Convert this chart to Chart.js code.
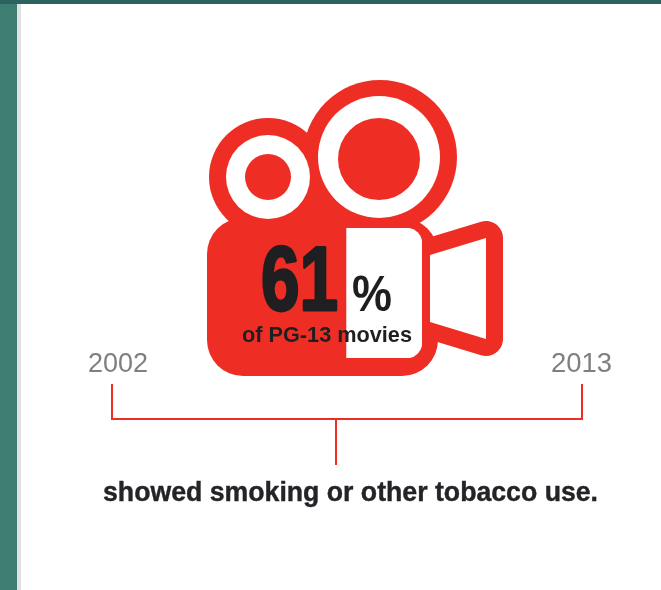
<!DOCTYPE html>
<html>
<head>
<meta charset="utf-8">
<style>
html,body{margin:0;padding:0;background:#fff;overflow:hidden}
#wrap{position:absolute;left:0;top:0;width:661px;height:590px;overflow:hidden;
  background:linear-gradient(#2c6360 0 4px,transparent 4px),linear-gradient(90deg,#3e7d71 0 17px,#fff 17px)}
canvas{display:block;filter:blur(0.6px)}
</style>
<script src="https://cdn.jsdelivr.net/npm/chart.js@4"></script>
</head>
<body>
<div id="wrap"><canvas id="c" width="661" height="590"></canvas></div>
<script>
const categories = ['PG-13 movies'];
const showedTobacco = [61];
const noTobacco = [39];
const years = ['2002', '2013'];
const caption = 'showed smoking or other tobacco use.';
const subLabel = 'of PG-13 movies';

const RED = '#ee2e24', INK = '#1f1f22';

function fitText(ctx, str, left, baseline, width, font, color, heavy) {
  ctx.save();
  ctx.font = font;
  ctx.fillStyle = color;
  ctx.strokeStyle = color;
  ctx.textAlign = 'left';
  ctx.textBaseline = 'alphabetic';
  const m = ctx.measureText(str).width;
  ctx.translate(left, baseline);
  ctx.scale(width / m, 1);
  ctx.fillText(str, 0, 0);
  if (heavy) {
    ctx.lineWidth = heavy;
    ctx.lineJoin = 'round';
    ctx.strokeText(str, 0, 0);
  }
  ctx.restore();
}
function circle(ctx, x, y, r, color) {
  ctx.fillStyle = color;
  ctx.beginPath();
  ctx.arc(x, y, r, 0, Math.PI * 2);
  ctx.fill();
}
function lensPath(ctx) {
  ctx.beginPath();
  ctx.moveTo(430, 255);
  ctx.lineTo(486, 238);
  ctx.lineTo(486, 339);
  ctx.lineTo(430, 322);
  ctx.closePath();
}

const artwork = {
  id: 'artwork',
  beforeDatasetsDraw(chart) {
    const ctx = chart.ctx;
    ctx.save();
    // page frame
    ctx.fillStyle = '#ffffff';
    ctx.fillRect(0, 0, 661, 590);
    ctx.fillStyle = '#e2e2e2';
    ctx.fillRect(17, 4, 4, 586);
    ctx.fillStyle = '#3e7d71';
    ctx.fillRect(0, 0, 17, 590);
    ctx.fillStyle = '#2c6360';
    ctx.fillRect(0, 0, 661, 4);
    // camera body and reels
    circle(ctx, 268, 177, 59, RED);
    circle(ctx, 380, 157, 77, RED);
    ctx.fillStyle = RED;
    ctx.fillRect(290, 185, 60, 40);
    ctx.beginPath();
    ctx.roundRect(207, 218, 231, 158, 36);
    ctx.fill();
    lensPath(ctx);
    ctx.strokeStyle = RED;
    ctx.lineWidth = 34;
    ctx.lineJoin = 'round';
    ctx.stroke();
    lensPath(ctx);
    ctx.fillStyle = '#ffffff';
    ctx.fill();
    circle(ctx, 268, 177, 42, '#ffffff');
    circle(ctx, 379, 157, 61, '#ffffff');
    circle(ctx, 268, 177, 23, RED);
    circle(ctx, 379, 159, 41, RED);
    ctx.restore();
  },
  afterDatasetsDraw(chart) {
    const ctx = chart.ctx;
    ctx.save();
    const sans = '"Liberation Sans",sans-serif';
    fitText(ctx, String(showedTobacco[0]), 261, 310, 77, 'bold 90px ' + sans, INK, 3);
    fitText(ctx, '%', 352, 311, 40, 'bold 50px ' + sans, INK);
    fitText(ctx, subLabel, 242, 342, 170, 'bold 22px ' + sans, INK);
    // timeline bracket
    ctx.strokeStyle = RED;
    ctx.lineWidth = 2;
    ctx.beginPath();
    ctx.moveTo(112, 384); ctx.lineTo(112, 419); ctx.lineTo(582, 419); ctx.lineTo(582, 384);
    ctx.moveTo(336, 419); ctx.lineTo(336, 465);
    ctx.stroke();
    fitText(ctx, years[0], 88, 372, 60, '27px ' + sans, '#7f7f7f');
    fitText(ctx, years[1], 551, 372, 61, '27px ' + sans, '#7f7f7f');
    fitText(ctx, caption, 103, 501, 495, 'bold 27px ' + sans, '#242428', 0.4);
    ctx.restore();
  }
};

new Chart(document.getElementById('c'), {
  type: 'bar',
  data: {
    labels: categories,
    datasets: [
      { label: 'Showed tobacco use', data: showedTobacco, backgroundColor: RED, borderWidth: 0, stack: 's' },
      { label: 'No tobacco use', data: noTobacco, backgroundColor: '#ffffff', borderWidth: 0, stack: 's',
        borderRadius: { topRight: 16, bottomRight: 16, topLeft: 0, bottomLeft: 0 }, borderSkipped: false }
    ]
  },
  options: {
    indexAxis: 'y',
    responsive: false,
    animation: false,
    devicePixelRatio: 1,
    layout: { padding: { left: 227, right: 239, top: 228, bottom: 232 } },
    datasets: { bar: { barPercentage: 1, categoryPercentage: 1 } },
    plugins: { legend: { display: false }, tooltip: { enabled: false }, title: { display: false } },
    scales: {
      x: { display: false, stacked: true, min: 0, max: 100 },
      y: { display: false, stacked: true }
    }
  },
  plugins: [artwork]
});
</script>
</body>
</html>
